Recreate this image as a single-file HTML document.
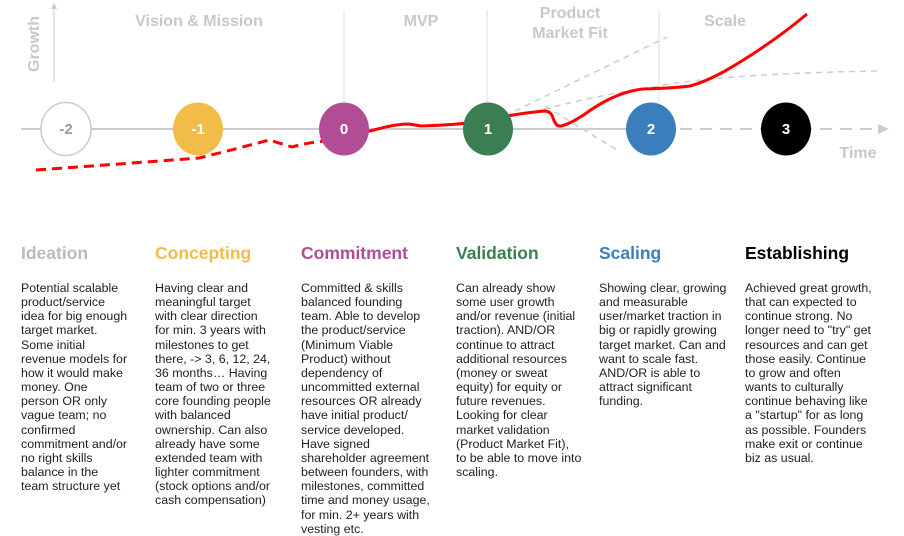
<!DOCTYPE html>
<html><head><style>
body{margin:0;width:904px;height:536px;background:#fff;position:relative;overflow:hidden;font-family:"Liberation Sans",sans-serif}
svg{position:absolute;left:0;top:0}
.h{position:absolute;top:243px;font-size:17.5px;font-weight:bold}
.t{position:absolute;top:281px;font-size:12.4px;line-height:14.15px;color:#222;white-space:nowrap}
</style></head><body>
<svg width="904" height="200" viewBox="0 0 904 200">
<g stroke="#ddd" stroke-width="1"><line x1="344" y1="10" x2="344" y2="102"/><line x1="487" y1="10" x2="487" y2="102"/><line x1="659" y1="10" x2="659" y2="102"/></g>
<line x1="54" y1="82" x2="54" y2="8" stroke="#ccc" stroke-width="1"/>
<polygon points="51,9 57,9 54,3" fill="#ccc"/>
<line x1="21" y1="129" x2="640" y2="129" stroke="#ccc" stroke-width="2"/>
<line x1="640" y1="129" x2="880" y2="129" stroke="#ccc" stroke-width="2" stroke-dasharray="12,8"/>
<polygon points="878,124 889,129 878,134" fill="#ccc"/>
<g stroke="#ccc" stroke-width="1.5" fill="none" stroke-dasharray="6,5">
<line x1="515" y1="111" x2="667" y2="37"/>
<path d="M544 109 Q600 95 659 86 Q720 74 877 71"/>
<line x1="545" y1="106" x2="617" y2="150"/>
</g>
<path d="M36 170 Q120 164 199 158 Q240 148 269 140 L292 147 Q310 142 325 141" fill="none" stroke="#f00" stroke-width="3" stroke-dasharray="10,6"/>
<path d="M325 141 L374 130 Q395 124 409 124 L421 126 Q450 125 468 123 Q520 113 544 111 Q551 111 553 118 Q556 127 561 126 Q570 124 585 114 Q615 92 643 89 Q675 88 690 86 Q705 82 725 71 Q770 45 807 14" fill="none" stroke="#f00" stroke-width="3"/>
<g font-family="Liberation Sans" font-weight="bold" fill="#fff" font-size="15" text-anchor="middle">
<ellipse cx="66" cy="129" rx="25" ry="26.5" fill="#fff" stroke="#ccc" stroke-width="1.5"/><text x="66" y="134" fill="#999">-2</text>
<ellipse cx="198" cy="129" rx="25" ry="26.5" fill="#f1bd48"/><text x="198" y="134">-1</text>
<ellipse cx="344" cy="129" rx="25" ry="26.5" fill="#b04d95"/><text x="344" y="134">0</text>
<ellipse cx="488" cy="129" rx="25" ry="26.5" fill="#3b7e51"/><text x="488" y="134">1</text>
<ellipse cx="651" cy="129" rx="25" ry="26.5" fill="#3a7ebc"/><text x="651" y="134">2</text>
<ellipse cx="786" cy="129" rx="25" ry="26.5" fill="#000"/><text x="786" y="134">3</text>
</g>
<g font-family="Liberation Sans" font-weight="bold" fill="#c8c8c8" font-size="16" text-anchor="middle">
<text x="199" y="26">Vision &amp; Mission</text>
<text x="421" y="26">MVP</text>
<text x="570" y="18">Product</text><text x="570" y="38">Market Fit</text>
<text x="725" y="26">Scale</text>
<text x="858" y="158">Time</text>
<text transform="translate(39,44) rotate(-90)">Growth</text>
</g>
</svg>
<div class="h" style="left:21px;color:#bbb">Ideation</div>
<div class="h" style="left:155px;color:#f1bd48">Concepting</div>
<div class="h" style="left:301px;color:#b04d95">Commitment</div>
<div class="h" style="left:456px;color:#3b7e51">Validation</div>
<div class="h" style="left:599px;color:#3a7ebc">Scaling</div>
<div class="h" style="left:745px;color:#000">Establishing</div>
<div class="t" style="left:21px">Potential scalable<br>product/service<br>idea for big enough<br>target market.<br>Some initial<br>revenue models for<br>how it would make<br>money. One<br>person OR only<br>vague team; no<br>confirmed<br>commitment and/or<br>no right skills<br>balance in the<br>team structure yet</div>
<div class="t" style="left:155px">Having clear and<br>meaningful target<br>with clear direction<br>for min. 3 years with<br>milestones to get<br>there, -&gt; 3, 6, 12, 24,<br>36 months… Having<br>team of two or three<br>core founding people<br>with balanced<br>ownership. Can also<br>already have some<br>extended team with<br>lighter commitment<br>(stock options and/or<br>cash compensation)</div>
<div class="t" style="left:301px">Committed &amp; skills<br>balanced founding<br>team. Able to develop<br>the product/service<br>(Minimum Viable<br>Product) without<br>dependency of<br>uncommitted external<br>resources OR already<br>have initial product/<br>service developed.<br>Have signed<br>shareholder agreement<br>between founders, with<br>milestones, committed<br>time and money usage,<br>for min. 2+ years with<br>vesting etc.</div>
<div class="t" style="left:456px">Can already show<br>some user growth<br>and/or revenue (initial<br>traction). AND/OR<br>continue to attract<br>additional resources<br>(money or sweat<br>equity) for equity or<br>future revenues.<br>Looking for clear<br>market validation<br>(Product Market Fit),<br>to be able to move into<br>scaling.</div>
<div class="t" style="left:599px">Showing clear, growing<br>and measurable<br>user/market traction in<br>big or rapidly growing<br>target market. Can and<br>want to scale fast.<br>AND/OR is able to<br>attract significant<br>funding.</div>
<div class="t" style="left:745px">Achieved great growth,<br>that can expected to<br>continue strong. No<br>longer need to "try" get<br>resources and can get<br>those easily. Continue<br>to grow and often<br>wants to culturally<br>continue behaving like<br>a "startup" for as long<br>as possible. Founders<br>make exit or continue<br>biz as usual.</div>
</body></html>
